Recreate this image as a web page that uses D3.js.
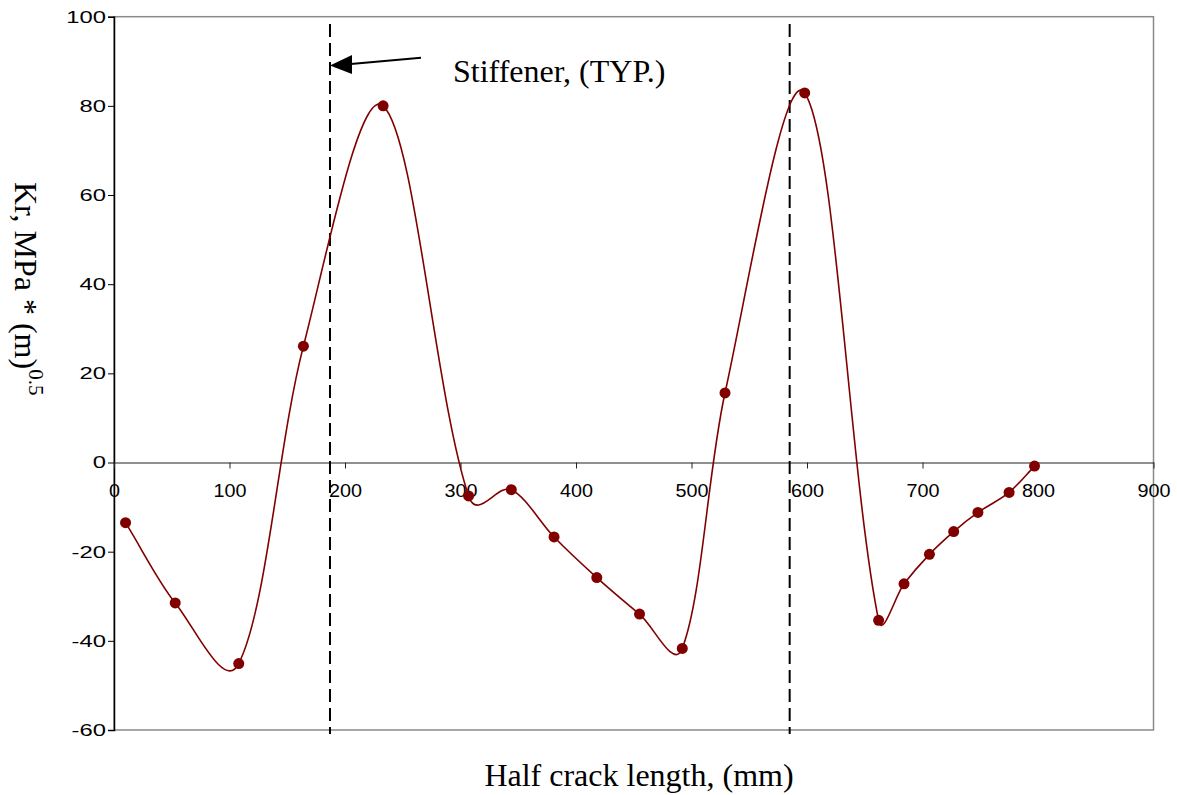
<!DOCTYPE html>
<html>
<head>
<meta charset="utf-8">
<script src="https://cdn.jsdelivr.net/npm/d3@7"></script>
<style>
  body { margin: 0; background: #fff; }
  svg { display: block; }
</style>
</head>
<body>
<div id="chart"></div>
<script>
// Dados
const halfCrack = [10, 53, 108, 164, 233, 307, 344, 381, 418, 455, 492, 529, 598, 662, 684, 706, 727, 748, 775, 797];
const krValues = [-13.5, -31.5, -45.1, 26.1, 80, -7.5, -6.1, -16.7, -25.8, -34, -41.7, 15.6, 82.9, -35.4, -27.2, -20.6, -15.5, -11.2, -6.7, -0.8];
const stiffeners = [187, 585];
const xTicks = [0, 100, 200, 300, 400, 500, 600, 700, 800, 900];
const yTicks = [-60, -40, -20, 0, 20, 40, 60, 80, 100];

const W = 1177, H = 795;
const plot = { left: 114, right: 1153.5, top: 16.7, bottom: 730 };
const lineColor = "#800000";

const svg = d3.select("#chart")
  .append("svg")
  .attr("width", W)
  .attr("height", H);

const x = d3.scaleLinear().domain([0, 900]).range([plot.left, plot.right]);
const y = d3.scaleLinear().domain([-60, 100]).range([plot.bottom, plot.top]);

// Moldura da área do gráfico (cinza)
svg.append("rect")
  .attr("x", plot.left)
  .attr("y", plot.top)
  .attr("width", plot.right - plot.left)
  .attr("height", plot.bottom - plot.top)
  .attr("fill", "none")
  .attr("stroke", "#8a8a8a")
  .attr("stroke-width", 1.5);

// Eixo Y (rótulos esticados na horizontal, como no original)
const yAxis = svg.append("g")
  .attr("transform", `translate(${plot.left},0)`)
  .call(d3.axisLeft(y).tickValues(yTicks).tickSize(6).tickFormat((d) => String(d)));
yAxis.select(".domain").attr("stroke", "#000").attr("stroke-width", 1.5);
yAxis.selectAll(".tick line").attr("stroke", "#000");
yAxis.selectAll("text")
  .attr("x", 0)
  .attr("transform", "translate(-8,0) scale(1.4,1)")
  .attr("font-family", "Arial, 'Liberation Sans', sans-serif")
  .attr("font-size", "17px")
  .attr("fill", "#000");

// Eixo X na linha do zero
const xAxis = svg.append("g")
  .attr("transform", `translate(0,${y(0)})`)
  .call(d3.axisBottom(x).tickValues(xTicks).tickSize(6).tickPadding(16).tickSizeOuter(0).tickFormat((d) => String(d)));
xAxis.select(".domain").attr("stroke", "#222").attr("stroke-width", 1.2);
xAxis.selectAll(".tick line").attr("stroke", "#222");
xAxis.selectAll("text")
  .attr("transform", "scale(1.1,1)")
  .attr("font-family", "Arial, 'Liberation Sans', sans-serif")
  .attr("font-size", "18px")
  .attr("fill", "#000");

// Linhas tracejadas dos enrijecedores
svg.selectAll(".stiffener")
  .data(stiffeners)
  .enter()
  .append("line")
  .attr("class", "stiffener")
  .attr("x1", (d) => x(d))
  .attr("x2", (d) => x(d))
  .attr("y1", 24)
  .attr("y2", 734)
  .attr("stroke", "#000")
  .attr("stroke-width", 2)
  .attr("stroke-dasharray", "13,6");

// Curva suavizada estilo Excel: Bezier com tangentes ponderadas pelo comprimento dos segmentos
const points = halfCrack.map((v, i) => [v, krValues[i]]);

function smoothPath(pts) {
  const dist = (a, b) => Math.hypot(a[0] - b[0], 1.4 * (a[1] - b[1]));
  const px = pts.map((d) => [x(d[0]), y(d[1])]);
  const p = d3.path();
  p.moveTo(px[0][0], px[0][1]);
  for (let i = 0; i < pts.length - 1; i++) {
    const i0 = Math.max(i - 1, 0), i3 = Math.min(i + 2, pts.length - 1);
    const d01 = dist(pts[i0], pts[i]);
    const d12 = dist(pts[i], pts[i + 1]);
    const d23 = dist(pts[i + 1], pts[i3]);
    const k1 = d12 / (d01 + d12) / 3;
    const k2 = d12 / (d12 + d23) / 3;
    const c1 = [px[i][0] + (px[i + 1][0] - px[i0][0]) * k1, px[i][1] + (px[i + 1][1] - px[i0][1]) * k1];
    const c2 = [px[i + 1][0] - (px[i3][0] - px[i][0]) * k2, px[i + 1][1] - (px[i3][1] - px[i][1]) * k2];
    p.bezierCurveTo(c1[0], c1[1], c2[0], c2[1], px[i + 1][0], px[i + 1][1]);
  }
  return p.toString();
}

svg.append("path")
  .attr("d", smoothPath(points))
  .attr("fill", "none")
  .attr("stroke", lineColor)
  .attr("stroke-width", 1.6);

svg.selectAll(".pt")
  .data(points)
  .enter()
  .append("circle")
  .attr("class", "pt")
  .attr("cx", (d) => x(d[0]))
  .attr("cy", (d) => y(d[1]))
  .attr("r", 5.5)
  .attr("fill", lineColor);

// Seta e anotação
const tipX = x(stiffeners[0]);
svg.append("line")
  .attr("x1", 421)
  .attr("y1", 57.7)
  .attr("x2", tipX + 18)
  .attr("y2", 64.3)
  .attr("stroke", "#000")
  .attr("stroke-width", 2);

svg.append("path")
  .attr("d", `M${tipX},65.5 L${tipX + 22},55 L${tipX + 22},74 Z`)
  .attr("fill", "#000");

svg.append("text")
  .attr("x", 453)
  .attr("y", 82)
  .attr("font-family", "'Times New Roman', 'Liberation Serif', serif")
  .attr("font-size", "32px")
  .attr("fill", "#000")
  .text("Stiffener, (TYP.)");

// Títulos dos eixos
svg.append("text")
  .attr("x", 639)
  .attr("y", 786)
  .attr("text-anchor", "middle")
  .attr("font-family", "'Times New Roman', 'Liberation Serif', serif")
  .attr("font-size", "32px")
  .attr("fill", "#000")
  .text("Half crack length, (mm)");

const yTitle = svg.append("text")
  .attr("transform", "translate(15,182) rotate(90)")
  .attr("font-family", "'Times New Roman', 'Liberation Serif', serif")
  .attr("font-size", "32px")
  .attr("fill", "#000");
yTitle.append("tspan").text("Kr, MPa * (m)");
yTitle.append("tspan")
  .attr("dy", -14)
  .attr("font-size", "21px")
  .text("0.5");
</script>
</body>
</html>
